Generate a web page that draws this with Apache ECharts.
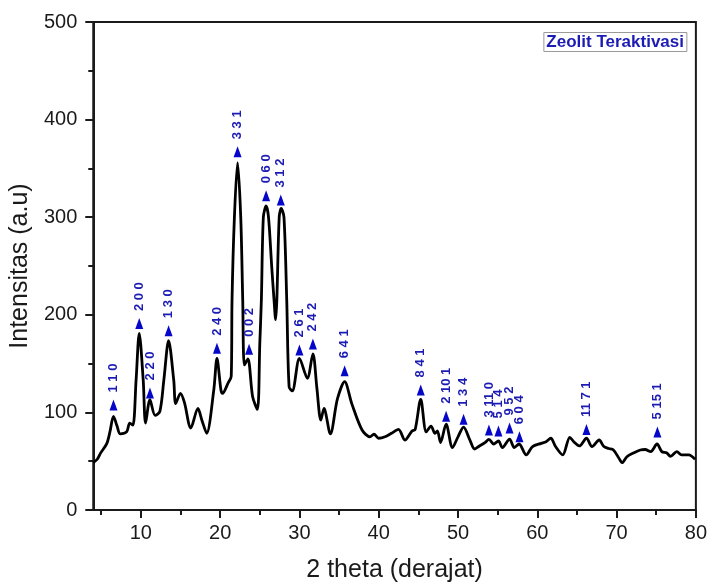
<!DOCTYPE html>
<html>
<head>
<meta charset="utf-8">
<script src="https://cdn.jsdelivr.net/npm/echarts@6/dist/echarts.min.js"></script>
<style>
  html, body { margin: 0; padding: 0; background: #fff; }
  #chart { width: 710px; height: 588px; }
</style>
</head>
<body>
<div id="chart"></div>
<script>
// XRD pattern of activated zeolite: 2-theta (degrees) vs intensity (a.u.)
const theta = [
  4.0, 4.5, 4.9, 5.7, 6.1, 6.55, 7.0, 7.4, 8.2, 8.6, 9.0, 9.4, 9.8, 10.3, 10.6,
  11.15, 11.8, 12.4, 12.9, 13.5, 14.15, 14.4, 15.0, 15.5, 16.3, 17.2, 17.7, 18.3,
  19.2, 19.6, 20.1, 20.3, 21.0, 21.4, 21.5, 21.8, 22.2, 22.6, 22.85, 23.06, 23.5,
  24.1, 24.7, 25.0, 25.2, 25.45, 25.8, 26.1, 26.5, 26.8, 27.0, 27.15, 27.45, 27.7,
  28.05, 28.4, 28.7, 29.1, 30.0, 31.0, 31.7, 32.2, 32.7, 33.1, 33.9, 34.8, 35.7,
  36.6, 37.9, 38.9, 39.4, 40.0, 40.8, 41.6, 42.5, 43.3, 44.2, 44.6, 45.3, 46.0,
  46.6, 47.1, 47.4, 47.8, 48.5, 49.3, 50.0, 50.7, 51.5, 52.1, 52.7, 53.4, 53.9,
  54.5, 55.1, 55.6, 56.5, 57.1, 57.7, 58.6, 59.4, 60.5, 61.1, 61.7, 62.3, 63.2,
  64.1, 64.6, 65.3, 66.2, 66.9, 67.8, 68.4, 69.0, 69.6, 70.3, 70.7, 71.3, 72.2,
  73.0, 73.6, 74.3, 75.1, 75.7, 76.3, 76.8, 77.6, 78.2, 79.1, 79.9
];
const intensity = [
  48.5, 52, 58, 68, 80, 96, 86, 78, 80, 89, 87, 133, 181, 133, 89,
  113, 97, 101, 133, 173.5, 133, 109, 119.5, 110, 84, 104, 92, 78.6,
  123, 155.4, 123, 119.5, 130, 137, 215, 300, 356, 300, 215, 148.6, 154.7,
  116, 103, 170, 215, 300, 311.5, 300, 250, 215, 195, 215, 300, 309,
  300, 215, 126, 122, 155.4, 135, 160, 125, 92, 104, 78, 114, 131.5,
  109, 82, 75, 77.6, 73.5, 75, 78.6, 82.6, 71.7, 81, 82.6, 113.4, 80,
  86, 78.6, 81, 69, 88, 64, 75, 85, 71.7, 62.5, 65.6, 69, 72.4,
  67.6, 70.7, 64, 72.7, 64, 67.6, 56.4, 65, 68.3, 70, 73.5, 65, 56.4,
  74.5, 70, 65.6, 73.5, 65, 71.7, 65, 63, 61.5, 53, 48.5, 54.6, 58.7,
  61.5, 62, 59.8, 67.6, 59.8, 58.7, 55, 59.8, 56.4, 56.4, 52
];

// Reflection markers (Miller indices) placed just above each peak
const peakTheta = [6.55, 9.8, 11.15, 13.5, 19.6, 22.2, 23.65, 25.8, 27.65, 30.0, 31.7, 35.7,
                   45.3, 48.5, 50.7, 53.9, 55.1, 56.5, 57.75, 66.2, 75.15];
const peakMarkY = [107.6, 191, 120, 183.7, 165.6, 367, 164.6, 322, 317.6, 164, 170, 142.7,
                   123, 96, 93, 82, 81, 84, 75, 82.6, 80];
const peakIndex = ['1 1 0', '2 0 0', '2 2 0', '1 3 0', '2 4 0', '3 3 1', '0 0 2', '0 6 0', '3 1 2',
                   '2 6 1', '2 4 2', '6 4 1', '8 4 1', '2 10 1', '1 3 4', '3 11 0', '5 1 4',
                   '9 5 2', '6 0 4', '11 7 1', '5 15 1'];

const xMajorTicks = [10, 20, 30, 40, 50, 60, 70, 80];
const xMinorTicks = [5, 15, 25, 35, 45, 55, 65, 75];

const FONT = "'Liberation Sans', Arial, sans-serif";
const INK = '#1a1a1a';
const BLUE = '#1c1cb4';

const chart = echarts.init(document.getElementById('chart'));

const lineData = theta.map((t, i) => [t, intensity[i]]);
const markData = peakTheta.map((t, i) => ({ value: [t, peakMarkY[i]], name: peakIndex[i] }));

chart.setOption({
  animation: false,
  backgroundColor: '#ffffff',
  title: {
    text: 'Zeolit Teraktivasi',
    right: 23,
    top: 32,
    padding: [2, 3, 1, 3],
    borderColor: '#9a9a9a',
    borderWidth: 1,
    backgroundColor: '#ffffff',
    textStyle: { color: BLUE, fontFamily: FONT, fontWeight: 'bold', fontSize: 17 }
  },
  grid: {
    left: 93, right: 11, top: 22, bottom: 78,
    show: true, borderColor: INK, borderWidth: 2, backgroundColor: 'transparent'
  },
  xAxis: [
    {
      type: 'value', min: 4, max: 80, position: 'bottom',
      name: '2 theta (derajat)', nameLocation: 'middle', nameGap: 48,
      nameTextStyle: { fontFamily: FONT, fontSize: 25, color: INK },
      axisLine: { show: true, onZero: false, lineStyle: { color: INK, width: 2 } },
      axisTick: { show: true, length: 8, customValues: xMajorTicks, lineStyle: { color: INK, width: 2 } },
      axisLabel: { show: true, customValues: xMajorTicks, margin: 13, fontFamily: FONT, fontSize: 20, color: INK },
      splitLine: { show: false }
    },
    {
      type: 'value', min: 4, max: 80, position: 'bottom',
      axisLine: { show: false, onZero: false },
      axisTick: { show: true, length: 5, customValues: xMinorTicks, lineStyle: { color: INK, width: 2 } },
      axisLabel: { show: false },
      splitLine: { show: false }
    }
  ],
  yAxis: {
    type: 'value', min: 0, max: 500, interval: 100,
    name: 'Intensitas (a.u)', nameLocation: 'middle', nameGap: 55,
    nameTextStyle: { fontFamily: FONT, fontSize: 25, color: INK },
    axisLine: { show: true, lineStyle: { color: INK, width: 2 } },
    axisTick: { show: true, length: 8, lineStyle: { color: INK, width: 2 } },
    minorTick: { show: true, splitNumber: 2, length: 5, lineStyle: { color: INK, width: 2 } },
    axisLabel: { margin: 16, fontFamily: FONT, fontSize: 20, color: INK },
    splitLine: { show: false }
  },
  series: [
    {
      type: 'line',
      xAxisIndex: 0,
      data: lineData,
      smooth: 0.3,
      symbol: 'none',
      lineStyle: { color: '#000000', width: 2.8 },
      z: 3
    },
    {
      type: 'scatter',
      xAxisIndex: 0,
      data: markData,
      symbol: 'triangle',
      symbolSize: [8, 11],
      itemStyle: { color: '#0606c8', opacity: 1 },
      emphasis: { disabled: true },
      label: {
        show: true,
        position: 'top',
        distance: 7,
        rotate: 90,
        align: 'left',
        verticalAlign: 'middle',
        formatter: p => p.name,
        fontFamily: FONT,
        fontWeight: 'bold',
        fontSize: 13,
        color: BLUE
      },
      z: 4
    }
  ]
});
</script>
</body>
</html>
